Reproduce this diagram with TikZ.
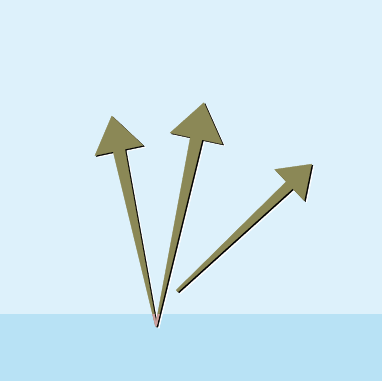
\documentclass[tikz,border=0pt]{standalone}
\definecolor{Ccielo}{RGB}{221,241,251}
\definecolor{Cagua}{RGB}{184,226,245}
\definecolor{Coliva}{RGB}{139,136,86}
\definecolor{Crosa}{RGB}{205,160,160}

\begin{document}
\begin{tikzpicture}[x=1pt, y=1pt,
    capa/.style={fill=#1, draw=#1, line width=0.3pt, line join=miter}]
  % fondo: cielo y agua
  \fill[Ccielo] (0,0) rectangle (382,381);
  \fill[Cagua] (0,0) rectangle (382,67);
  % tres flechas: base x/y, angulo, largo, punta, mitad punta, mitad asta, mitad base
  \foreach \bx/\by/\ang/\len/\hl/\hw/\sw/\bw in
      {156/55/101.9/214.6/35.2/24.6/6/0.6,
       156/55/77.9/228.4/36.6/26.7/6/0.6,
       177/90/43.3/185/30.5/21.5/4.7/1.2}{
    \foreach \dx/\dy/\col in {2.6/-2/white, 1.3/-1/black, 0/0/Coliva}{
      \begin{scope}[shift={(\bx+\dx,\by+\dy)}, rotate=\ang]
        \path[capa=\col] (0,-\bw) -- (\len-\hl,-\sw) -- (\len-\hl,-\hw)
          -- (\len,0) -- (\len-\hl,\hw) -- (\len-\hl,\sw) -- (0,\bw) -- cycle;
      \end{scope}
    }
  }
  % asta bajo la linea del agua
  \begin{scope}
    \clip (0,0) rectangle (382,67);
    \foreach \ang/\len in {101.9/214.6, 77.9/228.4}{
      \path[capa=Crosa, shift={(156,55)}, rotate=\ang]
        (0,-0.6) -- (\len-36,-6) -- (\len-36,6) -- (0,0.6) -- cycle;
    }
  \end{scope}
\end{tikzpicture}
\end{document}
